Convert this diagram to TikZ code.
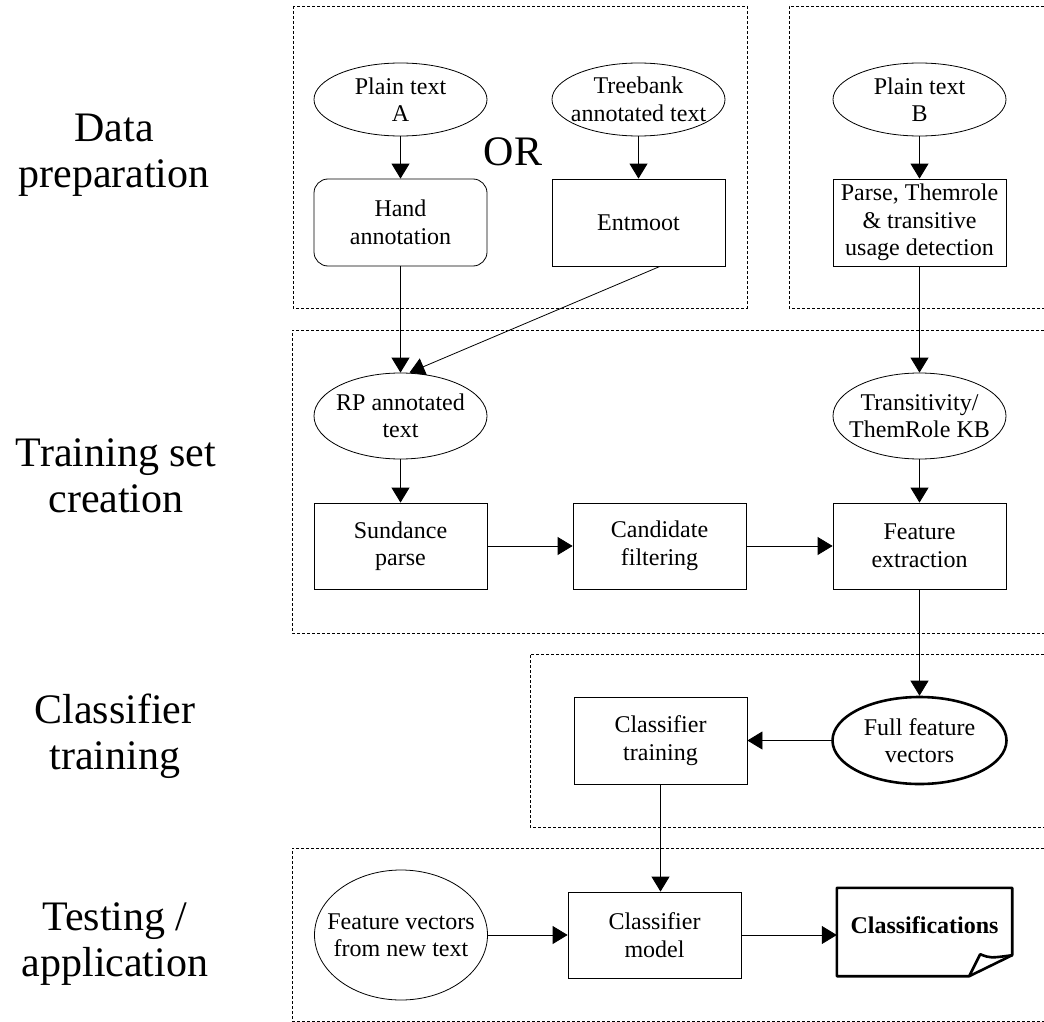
\documentclass[tikz,border=0pt]{standalone}
\usepackage{fontspec}
\setmainfont{Liberation Serif}
\usetikzlibrary{shapes.geometric,arrows.meta,calc}
\begin{document}
\begin{tikzpicture}[x=1pt,y=-1pt,
  every node/.style={font=\fontsize{24}{27.5}\selectfont, align=center, inner sep=0pt},
  ell/.style={ellipse, draw, line width=0.8pt, minimum width=173pt, minimum height=73pt},
  box/.style={rectangle, draw, line width=0.8pt, minimum width=173pt, minimum height=87pt},
  rbox/.style={box, rounded corners=14pt},
  region/.style={draw, line width=0.7pt, dash pattern=on 3pt off 2pt},
  lab/.style={font=\fontsize{42}{46}\selectfont},
  arr/.style={draw, line width=0.8pt, -{Triangle[length=15pt,width=18pt]}},
]
\useasboundingbox (0,0) rectangle (1044,1022);

% regions
\draw[region] (293,6) rectangle (747,308);
\draw[region] (1044,6) -- (789,6) -- (789,308) -- (1044,308);
\draw[region] (1044,330) -- (292,330) -- (292,633) -- (1044,633);
\draw[region] (1044,654) -- (530,654) -- (530,827) -- (1044,827);
\draw[region] (1044,848) -- (292,848) -- (292,1021) -- (1044,1021);

% side labels
\node[lab] (l1) at (114,155) {Data\\preparation};
\node[lab] (l2) at (116,476) {Training set\\creation};
\node[lab] (l3) at (115,736) {Classifier\\training};
\node[lab] (l4) at (115,944) {Testing /\\application};
\node[lab] (or) at (513,152) {OR};

% data preparation
\node[ell] (pa) at (400.5,99.5) {};
\node (paT) at (pa) {Plain text\\A};
\node[ell] (tb) at (638.5,99.5) {};
\node (tbT) at (tb) {Treebank\\annotated text};
\node[ell] (pb) at (919.5,99.5) {};
\node (pbT) at (pb) {Plain text\\B};
\node[rbox] (hand) at (400.5,222.5) {Hand\\annotation};
\node[box] (ent) at (638.5,222.5) {Entmoot};
\node[box] (parse) at (919.5,222.5) {Parse, Themrole\\\& transitive\\usage detection};

% training set creation
\node[ell, minimum height=86pt] (rp) at (400.5,416) {};
\node (rpT) at (rp) {RP annotated\\text};
\node[ell, minimum height=86pt] (tr) at (919.5,416) {};
\node (trT) at (tr) {Transitivity/\\ThemRole KB};
\node[box, minimum height=86pt] (sund) at (400.5,546) {Sundance\\parse};
\node[box, minimum height=86pt] (cand) at (659.5,546) {Candidate\\filtering};
\node[box, minimum height=86pt] (feat) at (919.5,546) {Feature\\extraction};

% classifier training
\node[ell, line width=2.6pt, minimum width=174pt, minimum height=87pt] (full) at (919.5,740.5) {};
\node (fullT) at (full) {Full feature\\vectors};
\node[box] (ctr) at (660.5,740.5) {Classifier\\training};

% testing
\node[ell, minimum height=130pt] (fvn) at (401,935) {};
\node (fvnT) at (fvn) {Feature vectors\\from new text};
\node[box, minimum height=86pt] (cm) at (654.5,935) {Classifier\\model};
\node[rectangle, minimum width=175pt, minimum height=88pt] (cls) at (924.5,932) {};
\node[font=\bfseries\fontsize{24}{27.5}\selectfont] (clsT) at ($(cls.center)+(0,-7)$) {Classifications};
\draw[line width=2.6pt, line join=round]
  (cls.north west) -- (cls.north east) -- ($(cls.south east)+(0,-21)$)
  -- ($(cls.south east)+(-43,0)$) -- (cls.south west) -- cycle;
\draw[line width=2.6pt, line join=round]
  ($(cls.south east)+(-43,0)$) -- ($(cls.south east)+(-32,-22)$)
  .. controls ($(cls.south east)+(-22,-18)$) .. ($(cls.south east)+(0,-21)$);

% connectors
\draw[arr] (pa) -- (hand);
\draw[arr] (tb) -- (ent);
\draw[arr] (pb) -- (parse);
\draw[arr] (hand.south) -- (rp.north);
\draw[arr] ([xshift=21.5pt]ent.south) -- ([xshift=9pt]rp.north);
\draw[arr] (parse.south) -- (tr.north);
\draw[arr] (rp) -- (sund);
\draw[arr] (tr) -- (feat);
\draw[arr] (sund) -- (cand);
\draw[arr] (cand) -- (feat);
\draw[arr] (feat.south) -- (full.north);
\draw[arr] (full.west) -- (ctr.east);
\draw[arr] (ctr.south) -- (ctr.south |- cm.north);
\draw[arr] (fvn.east) -- (fvn.east -| cm.west);
\draw[arr] (cm.east) -- (cm.east -| cls.west);
\end{tikzpicture}
\end{document}
